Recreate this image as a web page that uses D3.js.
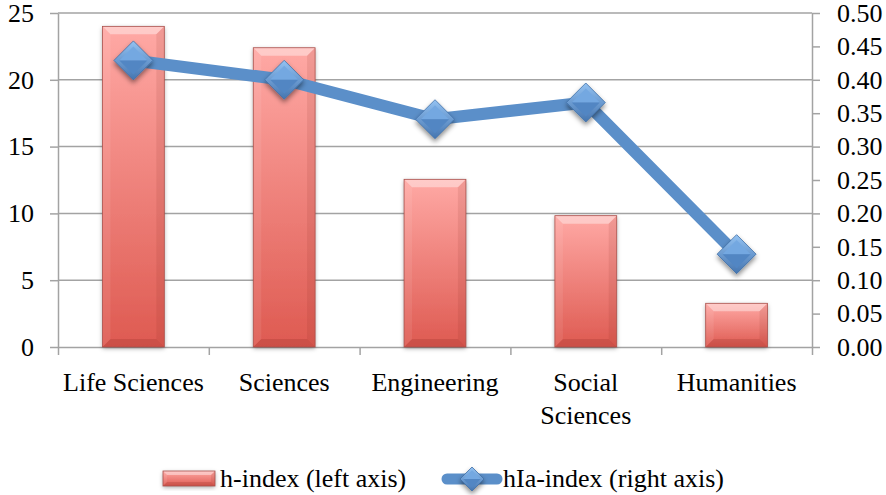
<!DOCTYPE html>
<html>
<head>
<meta charset="utf-8">
<script src="https://cdn.jsdelivr.net/npm/d3@7"></script>
<style>
  body { margin: 0; background: #fff; }
  text { font-family: "Liberation Serif", "Times New Roman", serif; }
</style>
</head>
<body>
<svg id="chart"></svg>
<script>
  // Data
  const categories = ["Life Sciences", "Sciences", "Engineering", "Social Sciences", "Humanities"];
  const hIndex = [24.0, 22.4, 12.55, 9.83, 3.27];
  const hIaIndex = [0.429, 0.40, 0.341, 0.366, 0.139];
  const leftTicks = [0, 5, 10, 15, 20, 25];
  const rightTicks = [0, 0.05, 0.10, 0.15, 0.20, 0.25, 0.30, 0.35, 0.40, 0.45, 0.50];
  const seriesNames = ["h-index (left axis)", "hIa-index (right axis)"];

  // Chart dimensions
  const width = 886, height = 495;
  const plot = { left: 58, right: 812, top: 13, bottom: 347 };
  const fontSize = 26;
  const gridColor = "#a3a3a3";

  const svg = d3.select("#chart")
    .attr("width", width)
    .attr("height", height);

  // Gradients and shadows
  const defs = svg.append("defs");
  const barGrad = defs.append("linearGradient")
    .attr("id", "barGrad").attr("x1", 0).attr("y1", 0).attr("x2", 0).attr("y2", 1);
  barGrad.append("stop").attr("offset", "0%").attr("stop-color", "#ffa9a5");
  barGrad.append("stop").attr("offset", "100%").attr("stop-color", "#de5a51");

  const diaGrad = defs.append("linearGradient")
    .attr("id", "diaGrad").attr("x1", 0).attr("y1", 0).attr("x2", 0).attr("y2", 1);
  diaGrad.append("stop").attr("offset", "0%").attr("stop-color", "#93c2f2");
  diaGrad.append("stop").attr("offset", "100%").attr("stop-color", "#4575b0");

  const shadow = defs.append("filter").attr("id", "shadow")
    .attr("x", "-30%").attr("y", "-30%").attr("width", "160%").attr("height", "160%");
  shadow.append("feDropShadow")
    .attr("dx", 0).attr("dy", 1.5).attr("stdDeviation", 2)
    .attr("flood-color", "#000").attr("flood-opacity", 0.35);

  const shadowDia = defs.append("filter").attr("id", "shadowDia")
    .attr("x", "-50%").attr("y", "-50%").attr("width", "200%").attr("height", "200%");
  shadowDia.append("feDropShadow")
    .attr("dx", 0).attr("dy", 3).attr("stdDeviation", 2.5)
    .attr("flood-color", "#000").attr("flood-opacity", 0.45);

  // Scales
  const x = d3.scaleBand()
    .domain(categories)
    .range([plot.left, plot.right])
    .padding(0);
  const xEdge = d3.scaleLinear()
    .domain([0, categories.length])
    .range([plot.left, plot.right]);
  const yLeft = d3.scaleLinear()
    .domain([0, 25])
    .range([plot.bottom, plot.top]);
  const yRight = d3.scaleLinear()
    .domain([0, 0.5])
    .range([plot.bottom, plot.top]);

  // Gridlines
  svg.append("g")
    .selectAll("line")
    .data(leftTicks.filter(d => d > 0))
    .join("line")
    .attr("x1", plot.left).attr("x2", plot.right)
    .attr("y1", d => yLeft(d)).attr("y2", d => yLeft(d))
    .attr("stroke", gridColor).attr("stroke-width", 1.5);

  // Left axis
  const leftAxis = svg.append("g")
    .attr("transform", `translate(${plot.left},0)`)
    .call(d3.axisLeft(yLeft).tickValues(leftTicks).tickSize(8).tickPadding(16).tickSizeOuter(0));

  // Right axis
  const rightAxis = svg.append("g")
    .attr("transform", `translate(${plot.right},0)`)
    .call(d3.axisRight(yRight).tickValues(rightTicks).tickFormat(d3.format(".2f"))
      .tickSize(8).tickPadding(17).tickSizeOuter(0));

  // Bottom axis: ticks at band edges
  const bottomAxis = svg.append("g")
    .attr("transform", `translate(0,${plot.bottom})`)
    .call(d3.axisBottom(xEdge).tickValues(d3.range(categories.length + 1))
      .tickFormat("").tickSize(8).tickSizeOuter(0));

  [leftAxis, rightAxis, bottomAxis].forEach(g => {
    g.selectAll("path, line").attr("stroke", gridColor).attr("stroke-width", 1.5);
    g.selectAll("text")
      .attr("font-size", fontSize)
      .attr("fill", "#000");
  });

  // Category labels
  const catAxis = svg.append("g")
    .attr("transform", `translate(0,${plot.bottom})`)
    .call(d3.axisBottom(x).tickSize(0).tickPadding(26));
  catAxis.select(".domain").remove();
  catAxis.selectAll("text")
    .attr("font-size", fontSize)
    .attr("fill", "#000")
    .each(function() { wrap(d3.select(this), x.bandwidth() - 4); });

  // Break long category names onto a second line
  function wrap(text, maxWidth) {
    if (text.node().getComputedTextLength() <= maxWidth) return;
    const words = text.text().split(/\s+/);
    const y = text.attr("y");
    text.text(null);
    let line = [], lineNo = 0;
    let tspan = text.append("tspan").attr("x", 0).attr("y", y).attr("dy", "0.71em");
    words.forEach(w => {
      line.push(w);
      tspan.text(line.join(" "));
      if (line.length > 1 && tspan.node().getComputedTextLength() > maxWidth) {
        line.pop();
        tspan.text(line.join(" "));
        line = [w];
        lineNo++;
        tspan = text.append("tspan").attr("x", 0).attr("y", y)
          .attr("dy", (lineNo * 1.25 + 0.71) + "em").text(w);
      }
    });
  }

  // Bevelled bar drawing
  function bevelBar(g, bx, by, bw, bh, b) {
    g.append("rect")
      .attr("x", bx).attr("y", by).attr("width", bw).attr("height", bh)
      .attr("fill", "url(#barGrad)")
      .attr("filter", "url(#shadow)");
    b = Math.min(b, bh / 2, bw / 2);
    const poly = (pts, fill, op) => g.append("polygon")
      .attr("points", pts.map(p => p.join(",")).join(" "))
      .attr("fill", fill).attr("fill-opacity", op);
    poly([[bx, by], [bx + bw, by], [bx + bw - b, by + b], [bx + b, by + b]], "#fff", 0.4);
    poly([[bx, by + bh], [bx + bw, by + bh], [bx + bw - b, by + bh - b], [bx + b, by + bh - b]], "#7a1e18", 0.18);
    poly([[bx, by], [bx + b, by + b], [bx + b, by + bh - b], [bx, by + bh]], "#fff", 0.08);
    poly([[bx + bw, by], [bx + bw - b, by + b], [bx + bw - b, by + bh - b], [bx + bw, by + bh]], "#7a1e18", 0.1);
    g.append("rect")
      .attr("x", bx).attr("y", by).attr("width", bw).attr("height", bh)
      .attr("fill", "none").attr("stroke", "#a9504b").attr("stroke-width", 0.8);
  }

  // Bevelled diamond marker
  function diamond(g, cx, cy, r) {
    const pts = s => [[cx, cy - r * s], [cx + r * s, cy], [cx, cy + r * s], [cx - r * s, cy]];
    const str = p => p.map(q => q.join(",")).join(" ");
    g.append("polygon").attr("points", str(pts(1)))
      .attr("fill", "url(#diaGrad)").attr("stroke", "#3f6ea6").attr("stroke-width", 0.8)
      .attr("filter", "url(#shadowDia)");
    const s = 0.72;
    g.append("polygon")
      .attr("points", str([[cx, cy - r * s], [cx + r * s, cy], [cx - r * s, cy]]))
      .attr("fill", "#74a8e1");
    g.append("polygon")
      .attr("points", str([[cx - r * s, cy], [cx + r * s, cy], [cx, cy + r * s]]))
      .attr("fill", "#5286c3");
  }

  // Bars
  const barW = x.bandwidth() * 0.41;
  const bars = svg.append("g");
  categories.forEach((c, i) => {
    const bx = x(c) + (x.bandwidth() - barW) / 2;
    bevelBar(bars, bx, yLeft(hIndex[i]), barW, yLeft(0) - yLeft(hIndex[i]), 8);
  });

  // Line with diamonds
  const line = d3.line()
    .x((d, i) => x(categories[i]) + x.bandwidth() / 2)
    .y(d => yRight(d));
  svg.append("path")
    .datum(hIaIndex)
    .attr("fill", "none")
    .attr("stroke", "#5b8fc9")
    .attr("stroke-width", 12)
    .attr("stroke-linejoin", "round")
    .attr("d", line);
  const markers = svg.append("g");
  hIaIndex.forEach((v, i) => {
    diamond(markers, x(categories[i]) + x.bandwidth() / 2, yRight(v), 19.5);
  });

  // Legend
  const legend = svg.append("g");
  bevelBar(legend, 163, 471, 52, 15, 4);
  legend.append("text")
    .attr("x", 220).attr("y", 487)
    .attr("font-size", fontSize).attr("fill", "#000")
    .text(seriesNames[0]);
  legend.append("line")
    .attr("x1", 447).attr("x2", 497).attr("y1", 479).attr("y2", 479)
    .attr("stroke", "#5b8fc9").attr("stroke-width", 11).attr("stroke-linecap", "round");
  diamond(legend, 472, 479, 12);
  legend.append("text")
    .attr("x", 503).attr("y", 487)
    .attr("font-size", fontSize).attr("fill", "#000")
    .text(seriesNames[1]);
</script>
</body>
</html>
